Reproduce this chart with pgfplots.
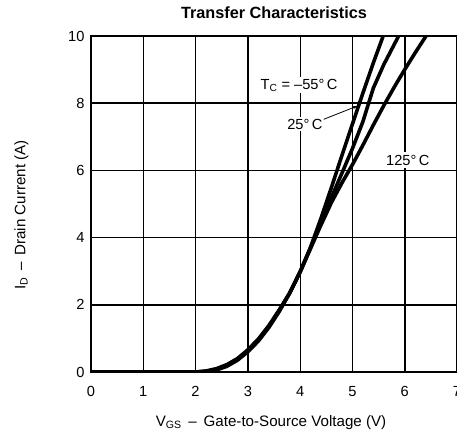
\documentclass[border=0pt]{standalone}
\usepackage{pgfplots}
\pgfplotsset{compat=1.18}
\usepackage{fontspec}
\setmainfont{Liberation Sans}
\usetikzlibrary{arrows.meta}

\begin{document}
\begin{tikzpicture}

\begin{axis}[
scale only axis,
width=366bp, height=336bp,
xmin=0, xmax=7,
ymin=0, ymax=10,
xtick={0,1,2,3,4,5,6,7},
ytick={0,2,4,6,8,10},
major tick length=0pt,
tick pos=left,
/pgf/number format/assume math mode=true,
tick label style={font=\fontsize{14.7}{17}\selectfont},
xticklabel style={yshift=-11bp},
yticklabel style={xshift=-3bp},
xmajorgrids, ymajorgrids,
grid style={black, line width=0.9pt},
axis line style={black, line width=1.2pt},
extra x ticks={2,3,6},
extra x tick labels={},
extra y ticks={2,8},
extra y tick labels={},
extra tick style={major grid style={black, line width=1.8pt}},
title={Transfer Characteristics},
title style={font=\bfseries\fontsize{16.3}{19}\selectfont, at={(0.5,1)}, anchor=south, yshift=7.5bp},
xlabel={V\textsubscript{GS} \,–\, Gate-to-Source Voltage (V)},
xlabel style={font=\fontsize{15.2}{18}\selectfont, at={(axis description cs:0.492,-0.150)}, anchor=center},
ylabel={I\textsubscript{D} \,–\, Drain Current (A)},
ylabel style={font=\fontsize{15.2}{18}\selectfont, at={(axis description cs:-0.19,0.467)}, anchor=center},
]

% TC = -55 C
\addplot [black, line width=3.6pt, line join=round] coordinates {
(0,0) (2.0,0) (2.2,0.01) (2.4,0.06) (2.6,0.17) (2.8,0.35) (3.0,0.60)
(3.2,0.92) (3.4,1.32) (3.6,1.80) (3.8,2.35) (4.0,2.98) (4.2,3.72)
(4.4,4.58) (4.6,5.50) (4.8,6.45) (5.0,7.38) (5.2,8.30) (5.4,9.20) (5.6,10.05)
};
% TC = 25 C
\addplot [black, line width=3.6pt, line join=round] coordinates {
(0,0) (2.0,0) (2.2,0.02) (2.4,0.08) (2.6,0.20) (2.8,0.37) (3.0,0.63)
(3.2,0.95) (3.4,1.35) (3.6,1.82) (3.8,2.35) (4.0,2.98) (4.2,3.70)
(4.4,4.45) (4.6,5.20) (4.8,5.92) (5.0,6.65) (5.2,7.45) (5.4,8.45)
(5.6,9.15) (5.8,9.75) (5.9,10.05)
};
% TC = 125 C
\addplot [black, line width=3.6pt, line join=round] coordinates {
(0,0) (2.0,0) (2.2,0.03) (2.4,0.10) (2.6,0.22) (2.8,0.40) (3.0,0.66)
(3.2,0.98) (3.4,1.38) (3.6,1.85) (3.8,2.35) (4.0,2.98) (4.2,3.68)
(4.4,4.38) (4.6,5.05) (4.8,5.63) (5.0,6.17) (5.2,6.75) (5.4,7.35)
(5.6,7.93) (5.8,8.48) (6.0,9.00) (6.2,9.50) (6.4,9.98) (6.5,10.2)
};

\node [fill=white, inner sep=2bp, font=\fontsize{14.7}{17}\selectfont] at (axis cs:3.98,8.54) {T\textsubscript{C} = –55°\,C};
\node [fill=white, inner sep=2bp, font=\fontsize{14.7}{17}\selectfont] at (axis cs:4.09,7.38) {25°\,C};
\node [fill=white, inner xsep=6bp, inner ysep=3bp, font=\fontsize{14.7}{17}\selectfont] at (axis cs:6.06,6.31) {125°\,C};
\draw [black, line width=0.8pt, -{Stealth[length=5bp,width=3bp]}] (axis cs:4.45,7.52) -- (axis cs:5.1,7.92);

\end{axis}

\pgfresetboundingbox
\path [use as bounding box] ([xshift=-91bp,yshift=-63bp]current axis.south west) rectangle ([yshift=36bp]current axis.north east);

\end{tikzpicture}
\end{document}
